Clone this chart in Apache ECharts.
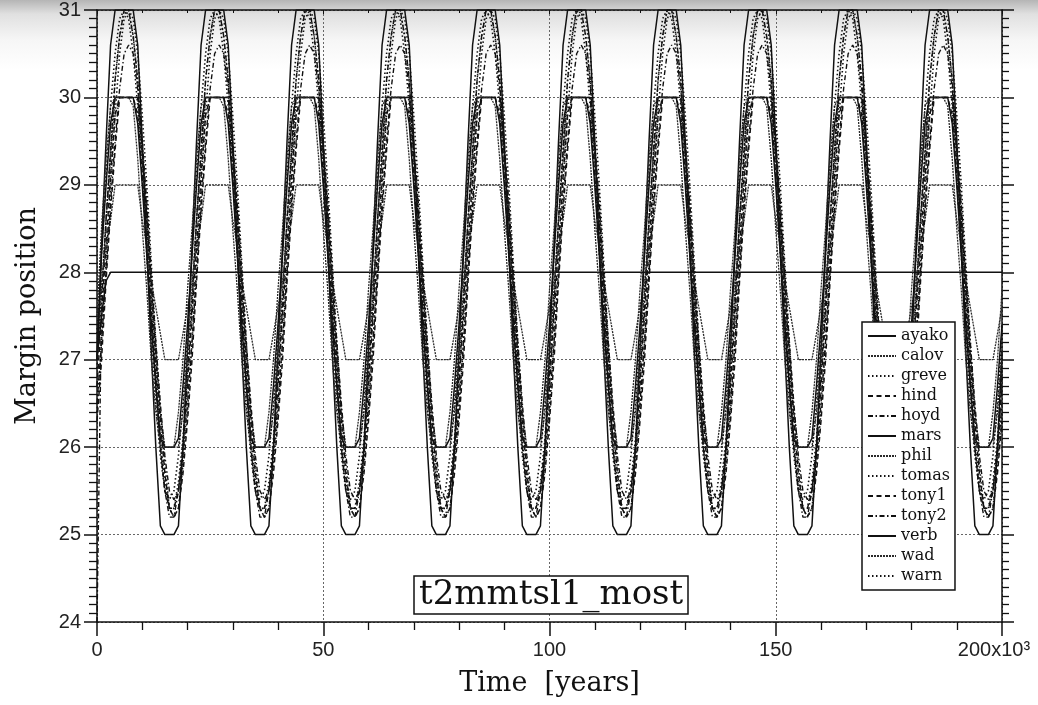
<!DOCTYPE html>
<html><head><meta charset="utf-8">
<script src="https://cdn.jsdelivr.net/npm/echarts@6/dist/echarts.min.js"></script>
<style>
html,body{margin:0;padding:0;}
body{background:linear-gradient(#b5b5b5 0px,#e0e0e0 14px,#f6f6f6 40px,#ffffff 70px);}
#c{width:1038px;height:705px;}
</style></head>
<body><div id="c"></div>
<script>
// time in kyr
const years = [0,1,2,3,4,5,6,7,8,9,10,11,12,13,14,15,16,17,18,19,20,21,22,23,24,25,26,27,28,29,30,31,32,33,34,35,36,37,38,39,40,41,42,43,44,45,46,47,48,49,50,51,52,53,54,55,56,57,58,59,60,61,62,63,64,65,66,67,68,69,70,71,72,73,74,75,76,77,78,79,80,81,82,83,84,85,86,87,88,89,90,91,92,93,94,95,96,97,98,99,100,101,102,103,104,105,106,107,108,109,110,111,112,113,114,115,116,117,118,119,120,121,122,123,124,125,126,127,128,129,130,131,132,133,134,135,136,137,138,139,140,141,142,143,144,145,146,147,148,149,150,151,152,153,154,155,156,157,158,159,160,161,162,163,164,165,166,167,168,169,170,171,172,173,174,175,176,177,178,179,180,181,182,183,184,185,186,187,188,189,190,191,192,193,194,195,196,197,198,199,200];

const ayako = [
27,28.3,29.5,30.6,31,31,31,31,31,30.6,29.5,28.3,27.1,26,25.1,25,25,25,25.1,26,
27.1,28.3,29.5,30.6,31,31,31,31,31,30.6,29.5,28.3,27.1,26,25.1,25,25,25,25.1,26,
27.1,28.3,29.5,30.6,31,31,31,31,31,30.6,29.5,28.3,27.1,26,25.1,25,25,25,25.1,26,
27.1,28.3,29.5,30.6,31,31,31,31,31,30.6,29.5,28.3,27.1,26,25.1,25,25,25,25.1,26,
27.1,28.3,29.5,30.6,31,31,31,31,31,30.6,29.5,28.3,27.1,26,25.1,25,25,25,25.1,26,
27.1,28.3,29.5,30.6,31,31,31,31,31,30.6,29.5,28.3,27.1,26,25.1,25,25,25,25.1,26,
27.1,28.3,29.5,30.6,31,31,31,31,31,30.6,29.5,28.3,27.1,26,25.1,25,25,25,25.1,26,
27.1,28.3,29.5,30.6,31,31,31,31,31,30.6,29.5,28.3,27.1,26,25.1,25,25,25,25.1,26,
27.1,28.3,29.5,30.6,31,31,31,31,31,30.6,29.5,28.3,27.1,26,25.1,25,25,25,25.1,26,
27.1,28.3,29.5,30.6,31,31,31,31,31,30.6,29.5,28.3,27.1,26,25.1,25,25,25,25.1,26,
27.1];
const calov = [
27,27.8,28.6,29.3,30,30,30,30,30,30,29.3,28.6,27.8,27.1,26.4,26,26,26,26,26.4,
27.1,27.8,28.6,29.3,30,30,30,30,30,30,29.3,28.6,27.8,27.1,26.4,26,26,26,26,26.4,
27.1,27.8,28.6,29.3,30,30,30,30,30,30,29.3,28.6,27.8,27.1,26.4,26,26,26,26,26.4,
27.1,27.8,28.6,29.3,30,30,30,30,30,30,29.3,28.6,27.8,27.1,26.4,26,26,26,26,26.4,
27.1,27.8,28.6,29.3,30,30,30,30,30,30,29.3,28.6,27.8,27.1,26.4,26,26,26,26,26.4,
27.1,27.8,28.6,29.3,30,30,30,30,30,30,29.3,28.6,27.8,27.1,26.4,26,26,26,26,26.4,
27.1,27.8,28.6,29.3,30,30,30,30,30,30,29.3,28.6,27.8,27.1,26.4,26,26,26,26,26.4,
27.1,27.8,28.6,29.3,30,30,30,30,30,30,29.3,28.6,27.8,27.1,26.4,26,26,26,26,26.4,
27.1,27.8,28.6,29.3,30,30,30,30,30,30,29.3,28.6,27.8,27.1,26.4,26,26,26,26,26.4,
27.1,27.8,28.6,29.3,30,30,30,30,30,30,29.3,28.6,27.8,27.1,26.4,26,26,26,26,26.4,
27.1];
const greve = [
26.9,27.7,28.6,29.4,30.2,30.7,31,31,30.7,30.2,29.4,28.6,27.7,26.9,26.1,25.6,25.3,25.3,25.6,26.1,
26.9,27.7,28.6,29.4,30.2,30.7,31,31,30.7,30.2,29.4,28.6,27.7,26.9,26.1,25.6,25.3,25.3,25.6,26.1,
26.9,27.7,28.6,29.4,30.2,30.7,31,31,30.7,30.2,29.4,28.6,27.7,26.9,26.1,25.6,25.3,25.3,25.6,26.1,
26.9,27.7,28.6,29.4,30.2,30.7,31,31,30.7,30.2,29.4,28.6,27.7,26.9,26.1,25.6,25.3,25.3,25.6,26.1,
26.9,27.7,28.6,29.4,30.2,30.7,31,31,30.7,30.2,29.4,28.6,27.7,26.9,26.1,25.6,25.3,25.3,25.6,26.1,
26.9,27.7,28.6,29.4,30.2,30.7,31,31,30.7,30.2,29.4,28.6,27.7,26.9,26.1,25.6,25.3,25.3,25.6,26.1,
26.9,27.7,28.6,29.4,30.2,30.7,31,31,30.7,30.2,29.4,28.6,27.7,26.9,26.1,25.6,25.3,25.3,25.6,26.1,
26.9,27.7,28.6,29.4,30.2,30.7,31,31,30.7,30.2,29.4,28.6,27.7,26.9,26.1,25.6,25.3,25.3,25.6,26.1,
26.9,27.7,28.6,29.4,30.2,30.7,31,31,30.7,30.2,29.4,28.6,27.7,26.9,26.1,25.6,25.3,25.3,25.6,26.1,
26.9,27.7,28.6,29.4,30.2,30.7,31,31,30.7,30.2,29.4,28.6,27.7,26.9,26.1,25.6,25.3,25.3,25.6,26.1,
26.9];
const hind = [
26.7,27.5,28.3,29.1,29.8,30,30,30,30,29.8,29.1,28.3,27.5,26.7,26,25.5,25.3,25.3,25.5,26,
26.7,27.5,28.3,29.1,29.8,30,30,30,30,29.8,29.1,28.3,27.5,26.7,26,25.5,25.3,25.3,25.5,26,
26.7,27.5,28.3,29.1,29.8,30,30,30,30,29.8,29.1,28.3,27.5,26.7,26,25.5,25.3,25.3,25.5,26,
26.7,27.5,28.3,29.1,29.8,30,30,30,30,29.8,29.1,28.3,27.5,26.7,26,25.5,25.3,25.3,25.5,26,
26.7,27.5,28.3,29.1,29.8,30,30,30,30,29.8,29.1,28.3,27.5,26.7,26,25.5,25.3,25.3,25.5,26,
26.7,27.5,28.3,29.1,29.8,30,30,30,30,29.8,29.1,28.3,27.5,26.7,26,25.5,25.3,25.3,25.5,26,
26.7,27.5,28.3,29.1,29.8,30,30,30,30,29.8,29.1,28.3,27.5,26.7,26,25.5,25.3,25.3,25.5,26,
26.7,27.5,28.3,29.1,29.8,30,30,30,30,29.8,29.1,28.3,27.5,26.7,26,25.5,25.3,25.3,25.5,26,
26.7,27.5,28.3,29.1,29.8,30,30,30,30,29.8,29.1,28.3,27.5,26.7,26,25.5,25.3,25.3,25.5,26,
26.7,27.5,28.3,29.1,29.8,30,30,30,30,29.8,29.1,28.3,27.5,26.7,26,25.5,25.3,25.3,25.5,26,
26.7];
const hoyd = [
24,27.6,28.6,29.4,30.2,30.7,31,31,30.7,30.2,29.4,28.6,27.6,26.8,26,25.5,25.2,25.2,25.5,26,
26.8,27.6,28.6,29.4,30.2,30.7,31,31,30.7,30.2,29.4,28.6,27.6,26.8,26,25.5,25.2,25.2,25.5,26,
26.8,27.6,28.6,29.4,30.2,30.7,31,31,30.7,30.2,29.4,28.6,27.6,26.8,26,25.5,25.2,25.2,25.5,26,
26.8,27.6,28.6,29.4,30.2,30.7,31,31,30.7,30.2,29.4,28.6,27.6,26.8,26,25.5,25.2,25.2,25.5,26,
26.8,27.6,28.6,29.4,30.2,30.7,31,31,30.7,30.2,29.4,28.6,27.6,26.8,26,25.5,25.2,25.2,25.5,26,
26.8,27.6,28.6,29.4,30.2,30.7,31,31,30.7,30.2,29.4,28.6,27.6,26.8,26,25.5,25.2,25.2,25.5,26,
26.8,27.6,28.6,29.4,30.2,30.7,31,31,30.7,30.2,29.4,28.6,27.6,26.8,26,25.5,25.2,25.2,25.5,26,
26.8,27.6,28.6,29.4,30.2,30.7,31,31,30.7,30.2,29.4,28.6,27.6,26.8,26,25.5,25.2,25.2,25.5,26,
26.8,27.6,28.6,29.4,30.2,30.7,31,31,30.7,30.2,29.4,28.6,27.6,26.8,26,25.5,25.2,25.2,25.5,26,
26.8,27.6,28.6,29.4,30.2,30.7,31,31,30.7,30.2,29.4,28.6,27.6,26.8,26,25.5,25.2,25.2,25.5,26,
26.8];
const mars = [
27,27.5,27.9,28,28,28,28,28,28,28,28,28,28,28,28,28,28,28,28,28,
28,28,28,28,28,28,28,28,28,28,28,28,28,28,28,28,28,28,28,28,
28,28,28,28,28,28,28,28,28,28,28,28,28,28,28,28,28,28,28,28,
28,28,28,28,28,28,28,28,28,28,28,28,28,28,28,28,28,28,28,28,
28,28,28,28,28,28,28,28,28,28,28,28,28,28,28,28,28,28,28,28,
28,28,28,28,28,28,28,28,28,28,28,28,28,28,28,28,28,28,28,28,
28,28,28,28,28,28,28,28,28,28,28,28,28,28,28,28,28,28,28,28,
28,28,28,28,28,28,28,28,28,28,28,28,28,28,28,28,28,28,28,28,
28,28,28,28,28,28,28,28,28,28,28,28,28,28,28,28,28,28,28,28,
28,28,28,28,28,28,28,28,28,28,28,28,28,28,28,28,28,28,28,28,
28];
const phil = [
27.2,27.9,28.3,28.6,29,29,29,29,29,29,28.6,28.3,27.9,27.6,27.3,27,27,27,27,27.3,
27.6,27.9,28.3,28.6,29,29,29,29,29,29,28.6,28.3,27.9,27.6,27.3,27,27,27,27,27.3,
27.6,27.9,28.3,28.6,29,29,29,29,29,29,28.6,28.3,27.9,27.6,27.3,27,27,27,27,27.3,
27.6,27.9,28.3,28.6,29,29,29,29,29,29,28.6,28.3,27.9,27.6,27.3,27,27,27,27,27.3,
27.6,27.9,28.3,28.6,29,29,29,29,29,29,28.6,28.3,27.9,27.6,27.3,27,27,27,27,27.3,
27.6,27.9,28.3,28.6,29,29,29,29,29,29,28.6,28.3,27.9,27.6,27.3,27,27,27,27,27.3,
27.6,27.9,28.3,28.6,29,29,29,29,29,29,28.6,28.3,27.9,27.6,27.3,27,27,27,27,27.3,
27.6,27.9,28.3,28.6,29,29,29,29,29,29,28.6,28.3,27.9,27.6,27.3,27,27,27,27,27.3,
27.6,27.9,28.3,28.6,29,29,29,29,29,29,28.6,28.3,27.9,27.6,27.3,27,27,27,27,27.3,
27.6,27.9,28.3,28.6,29,29,29,29,29,29,28.6,28.3,27.9,27.6,27.3,27,27,27,27,27.3,
27.6];
const tomas = [
26.4,27.2,28.1,29,29.8,30.5,30.9,31,30.9,30.5,29.8,29,28.1,27.2,26.4,25.8,25.3,25.2,25.3,25.8,
26.4,27.2,28.1,29,29.8,30.5,30.9,31,30.9,30.5,29.8,29,28.1,27.2,26.4,25.8,25.3,25.2,25.3,25.8,
26.4,27.2,28.1,29,29.8,30.5,30.9,31,30.9,30.5,29.8,29,28.1,27.2,26.4,25.8,25.3,25.2,25.3,25.8,
26.4,27.2,28.1,29,29.8,30.5,30.9,31,30.9,30.5,29.8,29,28.1,27.2,26.4,25.8,25.3,25.2,25.3,25.8,
26.4,27.2,28.1,29,29.8,30.5,30.9,31,30.9,30.5,29.8,29,28.1,27.2,26.4,25.8,25.3,25.2,25.3,25.8,
26.4,27.2,28.1,29,29.8,30.5,30.9,31,30.9,30.5,29.8,29,28.1,27.2,26.4,25.8,25.3,25.2,25.3,25.8,
26.4,27.2,28.1,29,29.8,30.5,30.9,31,30.9,30.5,29.8,29,28.1,27.2,26.4,25.8,25.3,25.2,25.3,25.8,
26.4,27.2,28.1,29,29.8,30.5,30.9,31,30.9,30.5,29.8,29,28.1,27.2,26.4,25.8,25.3,25.2,25.3,25.8,
26.4,27.2,28.1,29,29.8,30.5,30.9,31,30.9,30.5,29.8,29,28.1,27.2,26.4,25.8,25.3,25.2,25.3,25.8,
26.4,27.2,28.1,29,29.8,30.5,30.9,31,30.9,30.5,29.8,29,28.1,27.2,26.4,25.8,25.3,25.2,25.3,25.8,
26.4];
const tony1 = [
26.3,27,27.9,28.7,29.4,30,30,30,30,30,29.4,28.7,27.9,27,26.3,25.7,25.3,25.2,25.3,25.7,
26.3,27,27.9,28.7,29.4,30,30,30,30,30,29.4,28.7,27.9,27,26.3,25.7,25.3,25.2,25.3,25.7,
26.3,27,27.9,28.7,29.4,30,30,30,30,30,29.4,28.7,27.9,27,26.3,25.7,25.3,25.2,25.3,25.7,
26.3,27,27.9,28.7,29.4,30,30,30,30,30,29.4,28.7,27.9,27,26.3,25.7,25.3,25.2,25.3,25.7,
26.3,27,27.9,28.7,29.4,30,30,30,30,30,29.4,28.7,27.9,27,26.3,25.7,25.3,25.2,25.3,25.7,
26.3,27,27.9,28.7,29.4,30,30,30,30,30,29.4,28.7,27.9,27,26.3,25.7,25.3,25.2,25.3,25.7,
26.3,27,27.9,28.7,29.4,30,30,30,30,30,29.4,28.7,27.9,27,26.3,25.7,25.3,25.2,25.3,25.7,
26.3,27,27.9,28.7,29.4,30,30,30,30,30,29.4,28.7,27.9,27,26.3,25.7,25.3,25.2,25.3,25.7,
26.3,27,27.9,28.7,29.4,30,30,30,30,30,29.4,28.7,27.9,27,26.3,25.7,25.3,25.2,25.3,25.7,
26.3,27,27.9,28.7,29.4,30,30,30,30,30,29.4,28.7,27.9,27,26.3,25.7,25.3,25.2,25.3,25.7,
26.3];
const tony2 = [
26.5,27.2,28,28.8,29.5,30.1,30.5,30.6,30.5,30.1,29.5,28.8,28,27.2,26.5,25.9,25.5,25.4,25.5,25.9,
26.5,27.2,28,28.8,29.5,30.1,30.5,30.6,30.5,30.1,29.5,28.8,28,27.2,26.5,25.9,25.5,25.4,25.5,25.9,
26.5,27.2,28,28.8,29.5,30.1,30.5,30.6,30.5,30.1,29.5,28.8,28,27.2,26.5,25.9,25.5,25.4,25.5,25.9,
26.5,27.2,28,28.8,29.5,30.1,30.5,30.6,30.5,30.1,29.5,28.8,28,27.2,26.5,25.9,25.5,25.4,25.5,25.9,
26.5,27.2,28,28.8,29.5,30.1,30.5,30.6,30.5,30.1,29.5,28.8,28,27.2,26.5,25.9,25.5,25.4,25.5,25.9,
26.5,27.2,28,28.8,29.5,30.1,30.5,30.6,30.5,30.1,29.5,28.8,28,27.2,26.5,25.9,25.5,25.4,25.5,25.9,
26.5,27.2,28,28.8,29.5,30.1,30.5,30.6,30.5,30.1,29.5,28.8,28,27.2,26.5,25.9,25.5,25.4,25.5,25.9,
26.5,27.2,28,28.8,29.5,30.1,30.5,30.6,30.5,30.1,29.5,28.8,28,27.2,26.5,25.9,25.5,25.4,25.5,25.9,
26.5,27.2,28,28.8,29.5,30.1,30.5,30.6,30.5,30.1,29.5,28.8,28,27.2,26.5,25.9,25.5,25.4,25.5,25.9,
26.5,27.2,28,28.8,29.5,30.1,30.5,30.6,30.5,30.1,29.5,28.8,28,27.2,26.5,25.9,25.5,25.4,25.5,25.9,
26.5];
const verb = [
27,28.2,29,29.7,30,30,30,30,30,29.7,29,28.2,27.4,26.7,26.1,26,26,26,26.1,26.7,
27.4,28.2,29,29.7,30,30,30,30,30,29.7,29,28.2,27.4,26.7,26.1,26,26,26,26.1,26.7,
27.4,28.2,29,29.7,30,30,30,30,30,29.7,29,28.2,27.4,26.7,26.1,26,26,26,26.1,26.7,
27.4,28.2,29,29.7,30,30,30,30,30,29.7,29,28.2,27.4,26.7,26.1,26,26,26,26.1,26.7,
27.4,28.2,29,29.7,30,30,30,30,30,29.7,29,28.2,27.4,26.7,26.1,26,26,26,26.1,26.7,
27.4,28.2,29,29.7,30,30,30,30,30,29.7,29,28.2,27.4,26.7,26.1,26,26,26,26.1,26.7,
27.4,28.2,29,29.7,30,30,30,30,30,29.7,29,28.2,27.4,26.7,26.1,26,26,26,26.1,26.7,
27.4,28.2,29,29.7,30,30,30,30,30,29.7,29,28.2,27.4,26.7,26.1,26,26,26,26.1,26.7,
27.4,28.2,29,29.7,30,30,30,30,30,29.7,29,28.2,27.4,26.7,26.1,26,26,26,26.1,26.7,
27.4,28.2,29,29.7,30,30,30,30,30,29.7,29,28.2,27.4,26.7,26.1,26,26,26,26.1,26.7,
27.4];
const wad = [
27.5,28.5,29.3,29.9,30,30,30,30,29.9,29.3,28.5,27.8,27,26.4,26,26,26,26,26.4,27,
27.8,28.5,29.3,29.9,30,30,30,30,29.9,29.3,28.5,27.8,27,26.4,26,26,26,26,26.4,27,
27.8,28.5,29.3,29.9,30,30,30,30,29.9,29.3,28.5,27.8,27,26.4,26,26,26,26,26.4,27,
27.8,28.5,29.3,29.9,30,30,30,30,29.9,29.3,28.5,27.8,27,26.4,26,26,26,26,26.4,27,
27.8,28.5,29.3,29.9,30,30,30,30,29.9,29.3,28.5,27.8,27,26.4,26,26,26,26,26.4,27,
27.8,28.5,29.3,29.9,30,30,30,30,29.9,29.3,28.5,27.8,27,26.4,26,26,26,26,26.4,27,
27.8,28.5,29.3,29.9,30,30,30,30,29.9,29.3,28.5,27.8,27,26.4,26,26,26,26,26.4,27,
27.8,28.5,29.3,29.9,30,30,30,30,29.9,29.3,28.5,27.8,27,26.4,26,26,26,26,26.4,27,
27.8,28.5,29.3,29.9,30,30,30,30,29.9,29.3,28.5,27.8,27,26.4,26,26,26,26,26.4,27,
27.8,28.5,29.3,29.9,30,30,30,30,29.9,29.3,28.5,27.8,27,26.4,26,26,26,26,26.4,27,
27.8];
const warn = [
27.3,28.2,29.1,29.9,30.5,30.9,31,30.9,30.5,29.9,29.1,28.2,27.3,26.5,25.9,25.5,25.4,25.5,25.9,26.5,
27.3,28.2,29.1,29.9,30.5,30.9,31,30.9,30.5,29.9,29.1,28.2,27.3,26.5,25.9,25.5,25.4,25.5,25.9,26.5,
27.3,28.2,29.1,29.9,30.5,30.9,31,30.9,30.5,29.9,29.1,28.2,27.3,26.5,25.9,25.5,25.4,25.5,25.9,26.5,
27.3,28.2,29.1,29.9,30.5,30.9,31,30.9,30.5,29.9,29.1,28.2,27.3,26.5,25.9,25.5,25.4,25.5,25.9,26.5,
27.3,28.2,29.1,29.9,30.5,30.9,31,30.9,30.5,29.9,29.1,28.2,27.3,26.5,25.9,25.5,25.4,25.5,25.9,26.5,
27.3,28.2,29.1,29.9,30.5,30.9,31,30.9,30.5,29.9,29.1,28.2,27.3,26.5,25.9,25.5,25.4,25.5,25.9,26.5,
27.3,28.2,29.1,29.9,30.5,30.9,31,30.9,30.5,29.9,29.1,28.2,27.3,26.5,25.9,25.5,25.4,25.5,25.9,26.5,
27.3,28.2,29.1,29.9,30.5,30.9,31,30.9,30.5,29.9,29.1,28.2,27.3,26.5,25.9,25.5,25.4,25.5,25.9,26.5,
27.3,28.2,29.1,29.9,30.5,30.9,31,30.9,30.5,29.9,29.1,28.2,27.3,26.5,25.9,25.5,25.4,25.5,25.9,26.5,
27.3,28.2,29.1,29.9,30.5,30.9,31,30.9,30.5,29.9,29.1,28.2,27.3,26.5,25.9,25.5,25.4,25.5,25.9,26.5,
27.3];

const seriesNames = ['ayako','calov','greve','hind','hoyd','mars','phil','tomas','tony1','tony2','verb','wad','warn'];
const seriesValues = {ayako,calov,greve,hind,hoyd,mars,phil,tomas,tony1,tony2,verb,wad,warn};
const xTickLabels = {0:'0',50:'50',100:'100',150:'150',200:'200x10³'};
const chartTitle = 't2mmtsl1_most';

const SOLID = {type:'solid', color:'#111', width:1.5};
const FINE  = {type:[2,1], color:'#2a2a2a', width:1.3};
const DOT   = {type:[1.5,2.5], color:'#111', width:1.6};
const DASH  = {type:[5,3.5], color:'#111', width:1.5};
const DADOT = {type:[5,2.5,1.5,2.5], color:'#111', width:1.4};
const styleOf = {ayako:SOLID, calov:FINE, greve:DOT, hind:DASH, hoyd:DADOT, mars:SOLID, phil:FINE,
  tomas:DOT, tony1:DASH, tony2:DADOT, verb:SOLID, wad:FINE, warn:DOT};

const serif = 'DejaVu Serif';
const sans = 'Liberation Sans';

const chart = echarts.init(document.getElementById('c'), null, {renderer:'canvas'});
const gridBox = {left:97, right:36, top:10, bottom:83};

chart.setOption({
  backgroundColor:'transparent',
  animation:false,
  title:{text:chartTitle, left:414, top:576,
    textStyle:{fontFamily:serif, fontSize:34, fontWeight:'normal', color:'#111'},
    borderColor:'#111', borderWidth:1.5, padding:[2,5,2,5], backgroundColor:'#fff'},
  legend:{orient:'vertical', left:862, top:322, data:seriesNames,
    itemWidth:28, itemHeight:12, itemGap:4, padding:[6,5,6,5],
    borderColor:'#111', borderWidth:1.5, backgroundColor:'#fff',
    itemStyle:{opacity:0},
    textStyle:{fontFamily:serif, fontSize:16, color:'#111'}},
  grid:gridBox,
  xAxis:[{
    type:'value', min:0, max:200, interval:50, position:'bottom',
    name:'Time  [years]', nameLocation:'middle', nameGap:48,
    nameTextStyle:{fontFamily:serif, fontSize:27, color:'#111'},
    axisLine:{show:true, onZero:false, lineStyle:{color:'#111', width:1.5}},
    axisTick:{show:true, inside:false, length:14, lineStyle:{color:'#111', width:1.5}},
    minorTick:{show:true, splitNumber:5, length:8, lineStyle:{color:'#111', width:1.3}},
    axisLabel:{fontFamily:sans, fontSize:20, color:'#222', margin:18,
      formatter:v=> v===200 ? '{last|'+xTickLabels[v]+'}' : (xTickLabels[v]||''),
      rich:{last:{fontFamily:sans, fontSize:20, color:'#222', padding:[0,16,0,0]}}},
    splitLine:{show:true, lineStyle:{type:[2,2], color:'#666', width:1}}
  },{
    type:'value', min:0, max:200, interval:50, position:'top',
    axisLine:{show:true, onZero:false, lineStyle:{color:'#111', width:1.5}},
    axisTick:{show:true, inside:true, length:4, lineStyle:{color:'#111'}},
    minorTick:{show:true, splitNumber:5, length:3, lineStyle:{color:'#111'}},
    axisLabel:{show:false}, splitLine:{show:false}
  }],
  yAxis:[{
    type:'value', min:24, max:31, interval:1, position:'left',
    name:'Margin position', nameLocation:'middle', nameGap:56, nameRotate:90,
    nameTextStyle:{fontFamily:serif, fontSize:27, color:'#111'},
    axisLine:{show:true, onZero:false, lineStyle:{color:'#111', width:1.5}},
    axisTick:{show:true, inside:false, length:13, lineStyle:{color:'#111', width:1.5}},
    minorTick:{show:true, splitNumber:10, length:8, lineStyle:{color:'#111', width:1.3}},
    axisLabel:{fontFamily:sans, fontSize:20, color:'#222', margin:16},
    splitLine:{show:true, lineStyle:{type:[2,2], color:'#666', width:1}}
  },{
    type:'value', min:24, max:31, interval:1, position:'right',
    axisLine:{show:true, onZero:false, lineStyle:{color:'#111', width:1.5}},
    axisTick:{show:true, inside:false, length:12, lineStyle:{color:'#111', width:1.5}},
    minorTick:{show:true, splitNumber:10, length:7, lineStyle:{color:'#111', width:1.3}},
    axisLabel:{show:false}, splitLine:{show:false}
  }],
  series: seriesNames.map(n=>({
    name:n, type:'line', xAxisIndex:0, yAxisIndex:0,
    showSymbol:false, symbol:'none', smooth:false,
    lineStyle:styleOf[n], itemStyle:{color:styleOf[n].color},
    data: years.map((t,i)=>[t, seriesValues[n][i]])
  }))
});
</script>
</body></html>
